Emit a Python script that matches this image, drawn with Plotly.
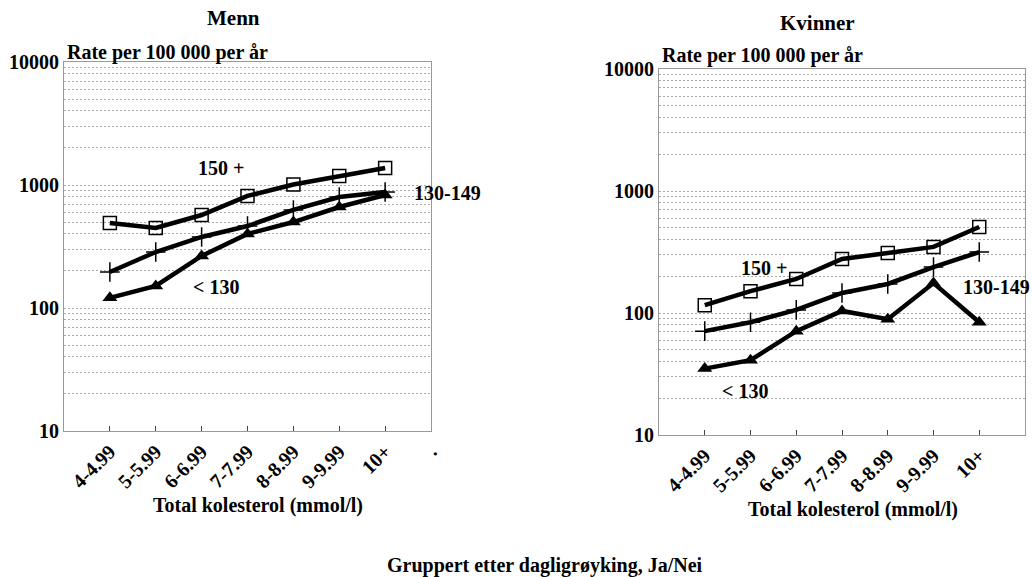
import plotly.graph_objects as go

categories = ["4-4.99", "5-5.99", "6-6.99", "7-7.99", "8-8.99", "9-9.99", "10+"]
extra_tick = "."

menn_150 = [491, 447, 570, 815, 1010, 1183, 1375]
menn_130_149 = [196, 285, 378, 464, 627, 798, 877]
menn_lt130 = [121, 151, 265, 400, 500, 662, 830]

kvinner_150 = [116, 151, 190, 277, 310, 348, 507]
kvinner_130_149 = [71, 84, 106, 146, 173, 238, 316]
kvinner_lt130 = [35, 41, 71, 104, 89, 176, 84]

series_labels = ["150 +", "130-149", "< 130"]
FONT = "Liberation Serif"
W, H = 1032, 577

x_idx = list(range(len(categories)))
tickvals_x = list(range(len(categories) + 1))
ticktext_x = categories + [extra_tick]

ytickvals = []
yticktext = []
for dec in [10, 100, 1000]:
    for m in range(1, 10):
        ytickvals.append(m * dec)
        yticktext.append(f"<b>{dec}</b>" if m == 1 else "")
ytickvals.append(10000)
yticktext.append("<b>10000</b>")

fig = go.Figure()

marker_styles = [
    dict(symbol="square-open", size=13, color="black", line=dict(width=1.5, color="black")),
    dict(symbol="cross-thin", size=14, color="black", line=dict(width=1.5, color="black")),
    dict(symbol="triangle-up", size=13, color="black"),
]

for xa, ya, data in [("x", "y", [menn_150, menn_130_149, menn_lt130]),
                     ("x2", "y2", [kvinner_150, kvinner_130_149, kvinner_lt130])]:
    for vals, mk, name in zip(data, marker_styles, series_labels):
        fig.add_trace(go.Scatter(
            x=x_idx, y=vals, mode="lines+markers", name=name,
            line=dict(color="black", width=4.5), marker=mk,
            xaxis=xa, yaxis=ya, showlegend=False, cliponaxis=False))

def px(x):
    return x / W

def py(y):
    return 1 - y / H

xaxis_common = dict(
    tickmode="array", tickvals=tickvals_x, ticktext=[f"<b>{t}</b>" for t in ticktext_x],
    range=[-1, 7], tickangle=-45, ticks="inside", ticklen=5, tickcolor="#444",
    showgrid=False, zeroline=False, showline=True, linecolor="#999", linewidth=1, mirror=True,
    tickfont=dict(family=FONT, size=20, color="black"), automargin=False,
)
yaxis_common = dict(
    type="log", range=[1, 4], tickmode="array", tickvals=ytickvals, ticktext=yticktext,
    ticks="", showgrid=True, gridcolor="#aaa", gridwidth=1, griddash="2px,2px",
    zeroline=False, showline=True, linecolor="#999", linewidth=1, mirror=True,
    tickfont=dict(family=FONT, size=20, color="black"), automargin=False,
)

fig.update_layout(
    template="none",
    width=W, height=H,
    margin=dict(l=0, r=0, t=0, b=0),
    paper_bgcolor="white", plot_bgcolor="white",
    xaxis=dict(domain=[px(64), px(431)], anchor="y", **xaxis_common),
    yaxis=dict(domain=[py(431), py(62)], anchor="x", **yaxis_common),
    xaxis2=dict(domain=[px(659), px(1025)], anchor="y2", **xaxis_common),
    yaxis2=dict(domain=[py(435), py(69)], anchor="x2", **yaxis_common),
)

def ann(text, x, y, size=19, xanchor="center", yanchor="middle"):
    fig.add_annotation(text=f"<b>{text}</b>", x=px(x), y=py(y), xref="paper", yref="paper",
                       xanchor=xanchor, yanchor=yanchor, showarrow=False,
                       font=dict(family=FONT, size=size, color="black"))

ann("Menn", 233, 18, size=21)
ann("Kvinner", 817, 23, size=21)
ann("Rate per 100 000 per år", 65, 52, xanchor="left", size=20)
ann("Rate per 100 000 per år", 660, 56, xanchor="left", size=20)
ann("Total kolesterol (mmol/l)", 258, 505, size=20)
ann("Total kolesterol (mmol/l)", 853, 509, size=20)
ann("Gruppert etter dagligrøyking, Ja/Nei", 545, 565, size=20)

ann(series_labels[0], 221, 168, size=20)
ann(series_labels[1], 447, 193, size=20)
ann(series_labels[2], 216, 287, size=20)
ann(series_labels[0], 764, 268, size=20)
ann(series_labels[1], 996, 287, size=20)
ann(series_labels[2], 745, 391, size=20)

fig.write_html("out.html")
